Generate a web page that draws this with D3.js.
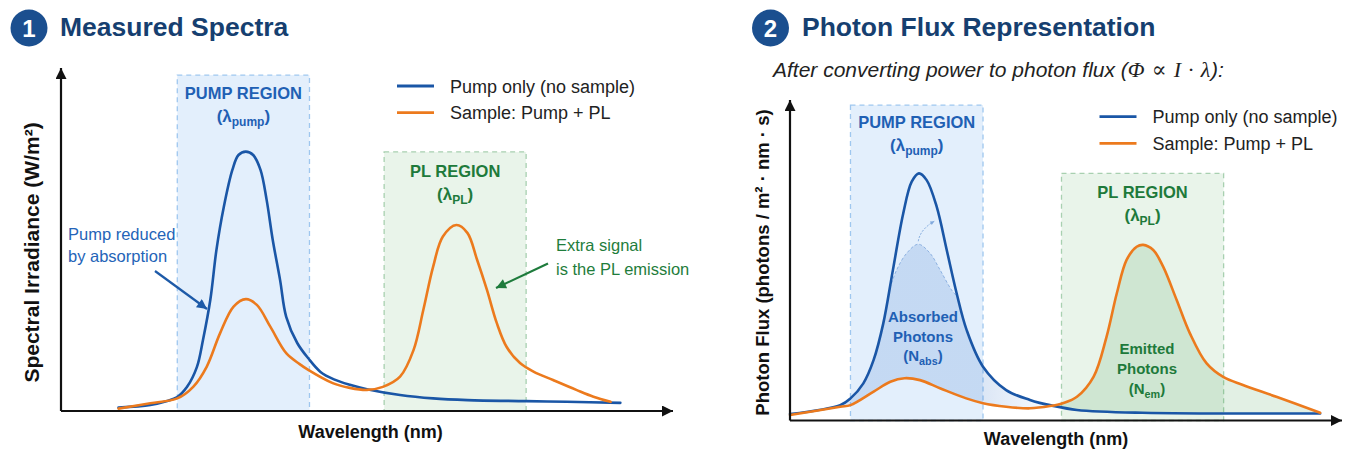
<!DOCTYPE html>
<html>
<head>
<meta charset="utf-8">
<script src="https://cdn.jsdelivr.net/npm/d3@7"></script>
<style>
  html, body { margin: 0; padding: 0; background: #ffffff; }
  svg { display: block; }
  text { font-family: "Liberation Sans", Arial, Helvetica, sans-serif; }
</style>
</head>
<body>
<svg id="chart" width="1351" height="453"></svg>
<script>
// ---------------- DATA (wavelength nm, relative intensity) ----------------
const pumpOnly1 = [[397,0.010],[423,0.018],[436,0.029],[445,0.041],[453,0.071],[461,0.129],[466,0.209],[472,0.327],[477,0.474],[483,0.600],[490,0.709],[495,0.753],[501,0.763],[507,0.753],[513,0.709],[518,0.621],[523,0.503],[529,0.385],[534,0.277],[543,0.200],[552,0.155],[562,0.115],[573,0.093],[586,0.077],[600,0.064],[627,0.047],[654,0.037],[682,0.032],[730,0.029],[763,0.027],[807,0.024]];
const sample1 = [[397,0.007],[423,0.023],[445,0.037],[458,0.071],[469,0.130],[480,0.229],[491,0.307],[501,0.329],[510,0.312],[521,0.248],[534,0.170],[545,0.138],[552,0.121],[572,0.082],[586,0.068],[600,0.062],[613,0.071],[627,0.101],[638,0.179],[646,0.297],[654,0.424],[662,0.513],[673,0.547],[682,0.524],[690,0.444],[698,0.356],[706,0.259],[714,0.189],[725,0.141],[736,0.116],[752,0.091],[771,0.062],[785,0.042],[799,0.027]];
const pumpOnly2 = [[400,0.020],[439,0.048],[447,0.069],[457,0.116],[465,0.189],[472.5,0.303],[480,0.470],[488,0.646],[494.6,0.745],[500.2,0.771],[506.2,0.750],[514,0.667],[521.8,0.532],[529.5,0.397],[537.3,0.282],[550,0.168],[568,0.095],[586.5,0.064],[594,0.055],[602,0.048],[623,0.033],[674,0.024],[812,0.022]];
const sample2 = [[400,0.017],[439,0.043],[447,0.048],[465,0.090],[478,0.121],[489,0.132],[501,0.126],[517,0.100],[537,0.069],[550,0.054],[568,0.043],[586.5,0.038],[602,0.045],[612,0.054],[623,0.074],[636,0.137],[646,0.261],[654,0.397],[661.6,0.501],[669.4,0.542],[674.5,0.548],[682.3,0.532],[690,0.480],[700.5,0.376],[710.8,0.272],[723.8,0.178],[737,0.135],[752,0.111],[778,0.074],[812,0.024]];
const absorbedCap2 = [[477.7,0.413],[482.9,0.470],[490.7,0.522],[499.7,0.550],[508.8,0.522],[516.6,0.470],[525.6,0.407],[529.8,0.388]];
const pumpRegion1 = [445, 553];
const plRegion1 = [614, 730];
const pumpRegion2 = [447, 550];
const plRegion2 = [611, 737];
const legendLabels = ["Pump only (no sample)", "Sample: Pump + PL"];
const panelTitles = ["Measured Spectra", "Photon Flux Representation"];
const panelNumbers = ["1", "2"];
const subtitleText = "After converting power to photon flux (";
const subtitleMath = "Φ ∝ I · λ";
const xLabel = "Wavelength (nm)";
const yLabel1 = "Spectral Irradiance (W/m²)";
const yLabel2 = "Photon Flux (photons / m² · nm · s)";

// ---------------- STYLE ----------------
const C = {
  blue: "#1a56a6", orange: "#ec7a1d", navy: "#163f70", circle: "#1b4f8f",
  pumpText: "#1f60b4", plText: "#1e7a3b", annBlue: "#2464b8", annGreen: "#1f7d3c",
  pumpBg: "#e3effc", pumpStroke: "#9fc7ef", plBg: "#e9f4ea", plStroke: "#a8d0b0"
};

const svg = d3.select("#chart");
const defs = svg.append("defs");

function marker(id, color, w, h) {
  defs.append("marker").attr("id", id).attr("viewBox", "0 0 10 10")
    .attr("refX", 10).attr("refY", 5).attr("markerWidth", w).attr("markerHeight", h)
    .attr("markerUnits", "userSpaceOnUse").attr("orient", "auto")
    .append("path").attr("d", "M0,0L10,5L0,10Z").attr("fill", color);
}
marker("axArrow", "#111", 13, 11);
marker("blueArrow", "#1d5aa8", 12, 10);
marker("greenArrow", "#1e7b3c", 12, 10);
marker("tinyArrow", "#7fa8dc", 5, 4);

// ---------------- SCALES ----------------
const x1 = d3.scaleLinear().domain([350, 850]).range([61, 673]);
const y1 = d3.scaleLinear().domain([0, 1]).range([411, 71]);
const x2 = d3.scaleLinear().domain([400, 829]).range([790, 1342]);
const y2 = d3.scaleLinear().domain([0, 1]).range([420.5, 100]);

const smooth = d3.curveCatmullRom.alpha(0.5);
function lineGen(x, y) {
  return d3.line().x(d => x(d[0])).y(d => y(d[1])).curve(smooth);
}

// ---------------- TITLES ----------------
function title(cx, tx, i) {
  svg.append("circle").attr("cx", cx).attr("cy", 28).attr("r", 18.5).attr("fill", C.circle);
  svg.append("text").attr("x", cx).attr("y", 36.5).attr("text-anchor", "middle")
    .attr("font-size", 24).attr("font-weight", "bold").attr("fill", "#fff").text(panelNumbers[i]);
  svg.append("text").attr("x", tx).attr("y", 36).attr("font-size", 26.5).attr("font-weight", "bold")
    .attr("fill", C.navy).text(panelTitles[i]);
}
title(29, 60, 0);
title(770.5, 802, 1);

const sub = svg.append("text").attr("x", 773).attr("y", 76.5).attr("font-size", 21)
  .attr("font-style", "italic").attr("fill", "#222");
sub.append("tspan").text(subtitleText);
sub.append("tspan").attr("font-family", "'Liberation Serif','DejaVu Serif',serif").attr("font-size", 22)
  .attr("letter-spacing", 0.8).text(subtitleMath);
sub.append("tspan").text("):");

// ---------------- REGION BOXES ----------------
function regionBox(x, y, ext, topVal, bg, stroke) {
  svg.append("rect").attr("x", x(ext[0])).attr("y", y(topVal))
    .attr("width", x(ext[1]) - x(ext[0])).attr("height", y(0) - y(topVal))
    .attr("fill", bg).attr("stroke", stroke).attr("stroke-width", 1.3)
    .attr("stroke-dasharray", "5,4");
}
function regionLabel(cx, y0, name, sub, color) {
  svg.append("text").attr("x", cx).attr("y", y0).attr("text-anchor", "middle")
    .attr("font-size", 16.5).attr("font-weight", "bold").attr("fill", color).text(name);
  const t = svg.append("text").attr("x", cx).attr("y", y0 + 23).attr("text-anchor", "middle")
    .attr("font-size", 17).attr("font-weight", "bold").attr("fill", color);
  t.append("tspan").text("(λ");
  t.append("tspan").attr("font-size", 12).attr("dy", 4).text(sub);
  t.append("tspan").attr("dy", -4).text(")");
}

regionBox(x1, y1, pumpRegion1, 0.988, C.pumpBg, C.pumpStroke);
regionBox(x1, y1, plRegion1, 0.762, C.plBg, C.plStroke);
regionBox(x2, y2, pumpRegion2, 0.984, C.pumpBg, C.pumpStroke);
regionBox(x2, y2, plRegion2, 0.771, C.plBg, C.plStroke);

regionLabel((x1(pumpRegion1[0]) + x1(pumpRegion1[1])) / 2, 99, "PUMP REGION", "pump", C.pumpText);
regionLabel((x1(plRegion1[0]) + x1(plRegion1[1])) / 2, 177, "PL REGION", "PL", C.plText);
regionLabel((x2(pumpRegion2[0]) + x2(pumpRegion2[1])) / 2, 128, "PUMP REGION", "pump", C.pumpText);
regionLabel((x2(plRegion2[0]) + x2(plRegion2[1])) / 2, 197.5, "PL REGION", "PL", C.plText);

// ---------------- PANEL 2 FILLS ----------------
const bottom2 = y2(0) + 30;
const clipBlue = defs.append("clipPath").attr("id", "underBlue");
clipBlue.append("path").attr("d", d3.area().x(d => x2(d[0])).y0(bottom2).y1(d => y2(d[1])).curve(smooth)(pumpOnly2));
const clipCap = defs.append("clipPath").attr("id", "underCap");
clipCap.append("rect").attr("x", 700).attr("y", 0).attr("width", x2(absorbedCap2[0][0]) - 700).attr("height", 453);
clipCap.append("path").attr("d", d3.area().x(d => x2(d[0])).y0(bottom2).y1(d => y2(d[1])).curve(smooth)(absorbedCap2));
clipCap.append("rect").attr("x", x2(absorbedCap2[absorbedCap2.length - 1][0])).attr("y", 0).attr("width", 600).attr("height", 453);
const clipOrange = defs.append("clipPath").attr("id", "underOrange");
clipOrange.append("path").attr("d", d3.area().x(d => x2(d[0])).y0(bottom2).y1(d => y2(d[1])).curve(smooth)(sample2));

const grad = defs.append("linearGradient").attr("id", "absGrad").attr("gradientUnits", "userSpaceOnUse")
  .attr("x1", x2(pumpRegion2[1])).attr("x2", x2(600)).attr("y1", 0).attr("y2", 0);
grad.append("stop").attr("offset", 0).attr("stop-color", "#2f6fc8").attr("stop-opacity", 0.17);
grad.append("stop").attr("offset", 1).attr("stop-color", "#2f6fc8").attr("stop-opacity", 0.04);

svg.append("g").attr("clip-path", "url(#underBlue)")
  .append("path")
  .attr("clip-path", "url(#underCap)")
  .attr("d", d3.area().x(d => x2(d[0])).y0(d => y2(d[1])).y1(0).curve(smooth)(sample2))
  .attr("fill", "url(#absGrad)");

svg.append("g").attr("clip-path", "url(#underOrange)")
  .append("path")
  .attr("d", d3.area().x(d => x2(d[0])).y0(d => y2(d[1])).y1(0).curve(smooth)(pumpOnly2.filter(d => d[0] >= 586)))
  .attr("fill", "#3a9a4a").attr("fill-opacity", 0.15);

// cap outline (dashed) and tiny arrow
svg.append("path").attr("d", lineGen(x2, y2)(absorbedCap2)).attr("fill", "none")
  .attr("stroke", "#8db2e2").attr("stroke-width", 1).attr("stroke-dasharray", "3,2");
const capPeak = absorbedCap2[3];
svg.append("path")
  .attr("d", `M${x2(capPeak[0])},${y2(capPeak[1]) - 3} Q${x2(capPeak[0]) + 2},${y2(capPeak[1]) - 15} ${x2(capPeak[0]) + 16},${y2(capPeak[1]) - 23}`)
  .attr("fill", "none").attr("stroke", "#7fa8dc").attr("stroke-width", 1).attr("stroke-dasharray", "2,1.5")
  .attr("marker-end", "url(#tinyArrow)");

// ---------------- CURVES ----------------
function curve(data, x, y, color) {
  svg.append("path").attr("d", lineGen(x, y)(data)).attr("fill", "none")
    .attr("stroke", color).attr("stroke-width", 2.6).attr("stroke-linejoin", "round").attr("stroke-linecap", "round");
}
curve(pumpOnly1, x1, y1, C.blue);
curve(sample1, x1, y1, C.orange);
curve(pumpOnly2, x2, y2, C.blue);
curve(sample2, x2, y2, C.orange);

// ---------------- IN-PLOT LABELS ----------------
function multiText(cx, ys, lines, color, size, weight, anchor) {
  lines.forEach((l, i) => {
    const t = svg.append("text").attr("x", cx).attr("y", ys[i]).attr("text-anchor", anchor)
      .attr("font-size", size).attr("font-weight", weight).attr("fill", color);
    if (Array.isArray(l)) {
      t.append("tspan").text(l[0]);
      t.append("tspan").attr("font-size", size * 0.72).attr("dy", 4).text(l[1]);
      t.append("tspan").attr("dy", -4).text(l[2]);
    } else t.text(l);
  });
}
multiText(923, [322, 341.5, 361], ["Absorbed", "Photons", ["(N", "abs", ")"]], C.pumpText, 15, "bold", "middle");
multiText(1147, [353.5, 373.5, 394], ["Emitted", "Photons", ["(N", "em", ")"]], C.plText, 15, "bold", "middle");
multiText(68, [240, 262], ["Pump reduced", "by absorption"], C.annBlue, 16.5, "normal", "start");
multiText(556, [251, 275], ["Extra signal", "is the PL emission"], C.annGreen, 16.5, "normal", "start");

svg.append("line").attr("x1", 155).attr("y1", 271).attr("x2", 207).attr("y2", 309)
  .attr("stroke", "#1d5aa8").attr("stroke-width", 2.2).attr("marker-end", "url(#blueArrow)");
svg.append("line").attr("x1", 548).attr("y1", 263.5).attr("x2", 496).attr("y2", 288)
  .attr("stroke", "#1e7b3c").attr("stroke-width", 2.2).attr("marker-end", "url(#greenArrow)");

// ---------------- LEGENDS ----------------
function legend(lx, ly) {
  [C.blue, C.orange].forEach((c, i) => {
    svg.append("line").attr("x1", lx).attr("x2", lx + 37).attr("y1", ly + i * 26.7).attr("y2", ly + i * 26.7)
      .attr("stroke", c).attr("stroke-width", 2.8);
    svg.append("text").attr("x", lx + 53).attr("y", ly + i * 26.7 + 6.5).attr("font-size", 18)
      .attr("fill", "#222").text(legendLabels[i]);
  });
}
legend(397, 86);
legend(1099.5, 116.7);

// ---------------- AXES ----------------
function axes(x, y, xd, yTopPx) {
  svg.append("line").attr("x1", x(xd[0])).attr("y1", y(0)).attr("x2", x(xd[0])).attr("y2", yTopPx)
    .attr("stroke", "#111").attr("stroke-width", 2.2).attr("marker-end", "url(#axArrow)");
  svg.append("line").attr("x1", x(xd[0])).attr("y1", y(0)).attr("x2", x(xd[1])).attr("y2", y(0))
    .attr("stroke", "#111").attr("stroke-width", 2.2).attr("marker-end", "url(#axArrow)");
}
axes(x1, y1, x1.domain(), 68);
axes(x2, y2, x2.domain(), 100);

svg.append("text").attr("x", 370.5).attr("y", 438).attr("text-anchor", "middle")
  .attr("font-size", 18).attr("font-weight", "bold").attr("fill", "#111").text(xLabel);
svg.append("text").attr("x", 1056).attr("y", 445).attr("text-anchor", "middle")
  .attr("font-size", 18).attr("font-weight", "bold").attr("fill", "#111").text(xLabel);
svg.append("text").attr("transform", "translate(39,252.5) rotate(-90)").attr("text-anchor", "middle")
  .attr("font-size", 21).attr("font-weight", "bold").attr("fill", "#111").text(yLabel1);
svg.append("text").attr("transform", "translate(768.5,262.5) rotate(-90)").attr("text-anchor", "middle")
  .attr("font-size", 18.5).attr("font-weight", "bold").attr("fill", "#111").text(yLabel2);
</script>
</body>
</html>
